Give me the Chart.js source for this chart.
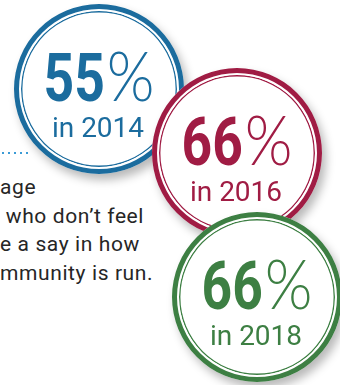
<!DOCTYPE html>
<html>
<head>
<meta charset="utf-8">
<script src="https://cdn.jsdelivr.net/npm/chart.js@4"></script>
<style>
  html, body { margin: 0; padding: 0; background: #fff; }
  body { width: 340px; height: 385px; position: relative; overflow: hidden; }
  .note {
    position: absolute; left: 0; top: 173px;
    font-family: Roboto, sans-serif; font-size: 21px; line-height: 28.5px;
    letter-spacing: 0.6px; color: #262626; white-space: pre;
  }
  .dots {
    position: absolute; left: 2px; top: 152px; width: 28px; height: 2px;
    background-image: repeating-linear-gradient(to right, #3b9bd6 0 2px, transparent 2px 6px);
  }
  canvas { position: absolute; }
</style>
</head>
<body>
<div class="dots"></div>
<div class="note">age
 who don’t feel
e a say in how
mmunity is run.</div>

<script>
// values
const years = ['2014', '2016', '2018'];
const shares = [55, 66, 66];

// look of each badge
const badgeColors = ['#1b6c9e', '#a01c44', '#3d7f43'];
const centers = [[99, 89], [237, 153], [257, 297]];
const radius = 85;
const size = 240;
const pctFont = '200 68px "DejaVu Sans ExtraLight", "Lato Light", "Roboto Light", Roboto';

const badgeText = {
  id: 'badgeText',
  beforeDatasetsDraw(chart, args, opts) {
    const ctx = chart.ctx;
    const c = size / 2;
    ctx.save();
    ctx.shadowColor = 'rgba(0,0,0,0.28)';
    ctx.shadowBlur = 10;
    ctx.shadowOffsetX = 4;
    ctx.shadowOffsetY = 6;
    ctx.fillStyle = '#fff';
    ctx.beginPath();
    ctx.arc(c, c, radius, 0, Math.PI * 2);
    ctx.fill();
    ctx.restore();
  },
  afterDraw(chart, args, opts) {
    const ctx = chart.ctx;
    const c = size / 2;
    const i = opts.index;
    const num = String(shares[i]);
    ctx.save();
    ctx.fillStyle = badgeColors[i];
    ctx.textBaseline = 'alphabetic';

    const sx = 0.81;
    const px = 0.9;
    ctx.font = 'bold 66px Roboto';
    const w1 = ctx.measureText(num).width * sx;
    ctx.font = pctFont;
    const w2 = ctx.measureText('%').width * px;
    const gap = 2;
    let x = c - (w1 + gap + w2) / 2;

    ctx.save();
    ctx.translate(x, c + 12);
    ctx.scale(sx, 1);
    ctx.font = 'bold 66px Roboto';
    ctx.textAlign = 'left';
    ctx.fillText(num, 0, 0);
    ctx.restore();

    ctx.save();
    ctx.translate(x + w1 + gap, c + 12);
    ctx.scale(px, 1);
    ctx.font = pctFont;
    ctx.textAlign = 'left';
    ctx.fillText('%', 0, 0);
    ctx.restore();

    ctx.font = '28px Roboto';
    ctx.textAlign = 'center';
    ctx.fillText('in ' + years[i], c - 1, c + 48);
    ctx.restore();
  }
};

for (let i = 0; i < years.length; i++) {
  const cv = document.createElement('canvas');
  cv.width = size;
  cv.height = size;
  cv.style.left = (centers[i][0] - size / 2) + 'px';
  cv.style.top = (centers[i][1] - size / 2) + 'px';
  document.body.appendChild(cv);

  const pad = size / 2 - radius;
  new Chart(cv.getContext('2d'), {
    type: 'doughnut',
    data: {
      labels: [years[i]],
      datasets: [
        { data: [shares[i]], backgroundColor: badgeColors[i], borderWidth: 0, weight: 5 },
        { data: [shares[i]], backgroundColor: '#fff', borderWidth: 0, weight: 2 },
        { data: [shares[i]], backgroundColor: badgeColors[i], borderWidth: 0, weight: 1.4 }
      ]
    },
    options: {
      responsive: false,
      animation: false,
      cutout: radius - 8.4,
      layout: { padding: pad },
      plugins: {
        legend: { display: false },
        tooltip: { enabled: false },
        badgeText: { index: i }
      }
    },
    plugins: [badgeText]
  });
}
</script>
</body>
</html>
